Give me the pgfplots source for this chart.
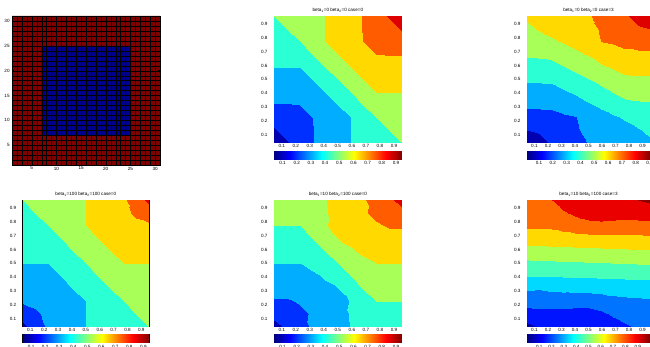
\documentclass[border=0pt]{standalone}
\usepackage{pgfplots}
\pgfplotsset{compat=1.18}
\usepackage{fontspec}
\setmainfont{Liberation Sans}
\definecolor{mred}{rgb}{0.5,0,0}
\definecolor{mblue}{rgb}{0,0,0.56}
\pgfplotsset{
  colormap={bandeight}{rgb=(0,0,0.70) rgb=(0,0.19,1) rgb=(0,0.68,1) rgb=(0.17,1,0.83) rgb=(0.66,1,0.34) rgb=(1,0.85,0) rgb=(1,0.36,0) rgb=(0.87,0,0)},
  colormap={bandten}{rgb=(0,0,0.66) rgb=(0,0.08,1) rgb=(0,0.45,1) rgb=(0,0.85,1) rgb=(0.28,1,0.72) rgb=(0.68,1,0.32) rgb=(1,0.85,0) rgb=(1,0.42,0) rgb=(0.92,0,0) rgb=(0.55,0,0)},
  base/.style={
    scale only axis, anchor=north west,
    font=\fontsize{4.6}{5.2}\selectfont,
    tick align=inside, major tick length=1.6pt,
    tick style={black, line width=0.3pt},
    axis line style={line width=0.4pt, black},
    /pgf/number format/assume math mode=true,
    xticklabel style={anchor=north, inner sep=0pt, yshift=-1.6pt},
    every axis title shift=0pt,
    title style={font=\fontsize{4.6}{5.2}\selectfont, anchor=south, inner sep=0pt, at={(0.5,1)}, yshift=3.4pt},
  },
  cplot/.style={
    base, height=126.7pt,
    xmin=0.045, xmax=0.955, ymin=0.045, ymax=0.955,
    xtick={0.1,0.2,0.3,0.4,0.5,0.6,0.7,0.8,0.9},
    ytick={0.1,0.2,0.3,0.4,0.5,0.6,0.7,0.8,0.9},
    xticklabel style={/pgf/number format/fixed, /pgf/number format/precision=1},
    yticklabel style={anchor=east, inner sep=0pt, xshift=-6.3pt, /pgf/number format/fixed, /pgf/number format/precision=1},
    colormap access=piecewise constant,
  },
  cbar/.style={
    base, height=8.6pt, ymin=0, ymax=1, ytick=\empty,
    xtick={0.1,0.2,0.3,0.4,0.5,0.6,0.7,0.8,0.9},
    xticklabel style={/pgf/number format/fixed, /pgf/number format/precision=1, yshift=-0.4pt},
    colormap/jet, colormap access=map,
  },
}
\begin{document}
\begin{tikzpicture}[x=1pt,y=1pt]
\useasboundingbox (0,0) rectangle (650,346);
\clip (0,0) rectangle (650,346);

% ---------- panel 1: mesh ----------
\begin{axis}[base, at={(12pt,330pt)}, width=148pt, height=149pt,
  xmin=1, xmax=31, ymin=1, ymax=31,
  xtick={5,10,15,20,25,30}, ytick={5,10,15,20,25,30},
  yticklabel style={anchor=east, inner sep=0pt, xshift=-2.2pt},
  minor xtick={1,...,31}, minor ytick={1,...,31}, minor tick length=0pt,
  grid=both, minor grid style={black, line width=0.18pt}, major grid style={black, line width=0.18pt},
  axis on top]
\addplot[fill=mred, draw=none] coordinates {(1,1) (31,1) (31,31) (1,31) (1,1)};
\addplot[fill=mblue, draw=none] coordinates {(7,7) (25,7) (25,25) (7,25) (7,7)};
\end{axis}

% ---------- panel 2 ----------
\begin{axis}[cplot, at={(274pt,330pt)}, width=127.7pt,
  colormap name=bandeight, point meta min=0.1, point meta max=0.9,
  title={beta\textsubscript{1}=0 beta\textsubscript{2}=0 case=0}]
\addplot[surf, shader=interp, mesh/cols=11, point meta=explicit] table[meta=f] {
x y f
0.045 0.045 0.04
0.136 0.045 0.19
0.227 0.045 0.25
0.318 0.045 0.295
0.409 0.045 0.34
0.5 0.045 0.37
0.591 0.045 0.40
0.682 0.045 0.43
0.773 0.045 0.45
0.864 0.045 0.475
0.955 0.045 0.50
0.045 0.136 0.19
0.136 0.136 0.24
0.227 0.136 0.26
0.318 0.136 0.295
0.409 0.136 0.34
0.5 0.136 0.37
0.591 0.136 0.40
0.682 0.136 0.445
0.773 0.136 0.47
0.864 0.136 0.50
0.955 0.136 0.525
0.045 0.227 0.25
0.136 0.227 0.26
0.227 0.227 0.28
0.318 0.227 0.30
0.409 0.227 0.345
0.5 0.227 0.375
0.591 0.227 0.40
0.682 0.227 0.45
0.773 0.227 0.50
0.864 0.227 0.53
0.955 0.227 0.55
0.045 0.318 0.295
0.136 0.318 0.295
0.227 0.318 0.30
0.318 0.318 0.34
0.409 0.318 0.37
0.5 0.318 0.40
0.591 0.318 0.45
0.682 0.318 0.50
0.773 0.318 0.55
0.864 0.318 0.555
0.955 0.318 0.57
0.045 0.409 0.34
0.136 0.409 0.34
0.227 0.409 0.345
0.318 0.409 0.37
0.409 0.409 0.40
0.5 0.409 0.45
0.591 0.409 0.50
0.682 0.409 0.55
0.773 0.409 0.60
0.864 0.409 0.60
0.955 0.409 0.60
0.045 0.5 0.37
0.136 0.5 0.37
0.227 0.5 0.375
0.318 0.5 0.40
0.409 0.5 0.45
0.5 0.5 0.50
0.591 0.5 0.55
0.682 0.5 0.60
0.773 0.5 0.625
0.864 0.5 0.63
0.955 0.5 0.63
0.045 0.591 0.40
0.136 0.591 0.40
0.227 0.591 0.40
0.318 0.591 0.45
0.409 0.591 0.50
0.5 0.591 0.55
0.591 0.591 0.60
0.682 0.591 0.63
0.773 0.591 0.655
0.864 0.591 0.66
0.955 0.591 0.66
0.045 0.682 0.43
0.136 0.682 0.445
0.227 0.682 0.45
0.318 0.682 0.50
0.409 0.682 0.55
0.5 0.682 0.60
0.591 0.682 0.63
0.682 0.682 0.66
0.773 0.682 0.70
0.864 0.682 0.705
0.955 0.682 0.705
0.045 0.773 0.45
0.136 0.773 0.47
0.227 0.773 0.50
0.318 0.773 0.55
0.409 0.773 0.60
0.5 0.773 0.625
0.591 0.773 0.655
0.682 0.773 0.70
0.773 0.773 0.72
0.864 0.773 0.74
0.955 0.773 0.75
0.045 0.864 0.475
0.136 0.864 0.50
0.227 0.864 0.53
0.318 0.864 0.555
0.409 0.864 0.60
0.5 0.864 0.63
0.591 0.864 0.66
0.682 0.864 0.705
0.773 0.864 0.74
0.864 0.864 0.76
0.955 0.864 0.81
0.045 0.955 0.50
0.136 0.955 0.525
0.227 0.955 0.55
0.318 0.955 0.57
0.409 0.955 0.60
0.5 0.955 0.63
0.591 0.955 0.66
0.682 0.955 0.705
0.773 0.955 0.75
0.864 0.955 0.81
0.955 0.955 0.94
};
\end{axis}
\begin{axis}[cbar, at={(274pt,195.3pt)}, width=127.7pt, xmin=0.04, xmax=0.94]
\addplot[surf, shader=interp, mesh/cols=9, point meta=explicit] table[meta=c] {
x y c
0.04 0 0.04
0.1525 0 0.1525
0.265 0 0.265
0.3775 0 0.3775
0.49 0 0.49
0.6025 0 0.6025
0.715 0 0.715
0.8275 0 0.8275
0.94 0 0.94
0.04 1 0.04
0.1525 1 0.1525
0.265 1 0.265
0.3775 1 0.3775
0.49 1 0.49
0.6025 1 0.6025
0.715 1 0.715
0.8275 1 0.8275
0.94 1 0.94
};
\end{axis}

% ---------- panel 3 ----------
\begin{axis}[cplot, at={(527pt,330pt)}, width=123pt,
  colormap name=bandeight, point meta min=0.1, point meta max=0.9,
  title={beta\textsubscript{1}=0 beta\textsubscript{2}=0 case=3}]
\addplot[surf, shader=interp, mesh/cols=11, point meta=explicit] table[meta=f] {
x y f
0.045 0.045 0.13
0.136 0.045 0.162
0.227 0.045 0.213
0.318 0.045 0.245
0.409 0.045 0.277
0.5 0.045 0.305
0.591 0.045 0.321
0.682 0.045 0.337
0.773 0.045 0.353
0.864 0.045 0.37
0.955 0.045 0.386
0.045 0.136 0.20
0.136 0.136 0.213
0.227 0.136 0.245
0.318 0.136 0.268
0.409 0.136 0.288
0.5 0.136 0.334
0.591 0.136 0.349
0.682 0.136 0.364
0.773 0.136 0.378
0.864 0.136 0.393
0.955 0.136 0.42
0.045 0.227 0.259
0.136 0.227 0.264
0.227 0.227 0.277
0.318 0.227 0.29
0.409 0.227 0.298
0.5 0.227 0.363
0.591 0.227 0.377
0.682 0.227 0.391
0.773 0.227 0.409
0.864 0.227 0.439
0.955 0.227 0.454
0.045 0.318 0.315
0.136 0.318 0.315
0.227 0.318 0.315
0.318 0.318 0.332
0.409 0.318 0.354
0.5 0.318 0.392
0.591 0.318 0.412
0.682 0.318 0.442
0.773 0.318 0.474
0.864 0.318 0.484
0.955 0.318 0.488
0.045 0.409 0.365
0.136 0.409 0.365
0.227 0.409 0.367
0.318 0.409 0.39
0.409 0.409 0.415
0.5 0.409 0.443
0.591 0.409 0.472
0.682 0.409 0.503
0.773 0.409 0.53
0.864 0.409 0.534
0.955 0.409 0.534
0.045 0.5 0.415
0.136 0.5 0.415
0.227 0.5 0.418
0.318 0.5 0.444
0.409 0.5 0.471
0.5 0.5 0.50
0.591 0.5 0.529
0.682 0.5 0.556
0.773 0.5 0.582
0.864 0.5 0.585
0.955 0.5 0.585
0.045 0.591 0.466
0.136 0.591 0.466
0.227 0.591 0.47
0.318 0.591 0.497
0.409 0.591 0.528
0.5 0.591 0.557
0.591 0.591 0.585
0.682 0.591 0.61
0.773 0.591 0.633
0.864 0.591 0.635
0.955 0.591 0.635
0.045 0.682 0.512
0.136 0.682 0.516
0.227 0.682 0.526
0.318 0.682 0.558
0.409 0.682 0.588
0.5 0.682 0.608
0.591 0.682 0.646
0.682 0.682 0.668
0.773 0.682 0.685
0.864 0.682 0.685
0.955 0.682 0.685
0.045 0.773 0.546
0.136 0.773 0.561
0.227 0.773 0.591
0.318 0.773 0.609
0.409 0.773 0.623
0.5 0.773 0.637
0.591 0.773 0.702
0.682 0.773 0.71
0.773 0.773 0.723
0.864 0.773 0.736
0.955 0.773 0.741
0.045 0.864 0.58
0.136 0.864 0.607
0.227 0.864 0.622
0.318 0.864 0.636
0.409 0.864 0.651
0.5 0.864 0.666
0.591 0.864 0.712
0.682 0.864 0.732
0.773 0.864 0.755
0.864 0.864 0.787
0.955 0.864 0.80
0.045 0.955 0.614
0.136 0.955 0.63
0.227 0.955 0.647
0.318 0.955 0.663
0.409 0.955 0.679
0.5 0.955 0.695
0.591 0.955 0.723
0.682 0.955 0.755
0.773 0.955 0.787
0.864 0.955 0.838
0.955 0.955 0.87
};
\end{axis}
\begin{axis}[cbar, at={(527pt,195.3pt)}, width=123pt, xmin=0.013, xmax=0.903]
\addplot[surf, shader=interp, mesh/cols=9, point meta=explicit] table[meta=c] {
x y c
0.013 0 0.013
0.124 0 0.124
0.236 0 0.236
0.347 0 0.347
0.458 0 0.458
0.569 0 0.569
0.681 0 0.681
0.792 0 0.792
0.903 0 0.903
0.013 1 0.013
0.124 1 0.124
0.236 1 0.236
0.347 1 0.347
0.458 1 0.458
0.569 1 0.569
0.681 1 0.681
0.792 1 0.792
0.903 1 0.903
};
\end{axis}

% ---------- panel 4 ----------
\begin{axis}[cplot, at={(22.7pt,146pt)}, width=126.3pt,
  colormap name=bandeight, point meta min=0.1, point meta max=0.9,
  title={beta\textsubscript{1}=100 beta\textsubscript{2}=100 case=0}]
\addplot[surf, shader=interp, mesh/cols=11, point meta=explicit] table[meta=f] {
x y f
0.045 0.045 0.17
0.136 0.045 0.26
0.227 0.045 0.31
0.318 0.045 0.34
0.409 0.045 0.37
0.5 0.045 0.40
0.591 0.045 0.425
0.682 0.045 0.445
0.773 0.045 0.46
0.864 0.045 0.48
0.955 0.045 0.50
0.045 0.136 0.26
0.136 0.136 0.285
0.227 0.136 0.32
0.318 0.136 0.345
0.409 0.136 0.37
0.5 0.136 0.40
0.591 0.136 0.43
0.682 0.136 0.45
0.773 0.136 0.47
0.864 0.136 0.50
0.955 0.136 0.52
0.045 0.227 0.31
0.136 0.227 0.32
0.227 0.227 0.34
0.318 0.227 0.36
0.409 0.227 0.38
0.5 0.227 0.40
0.591 0.227 0.435
0.682 0.227 0.46
0.773 0.227 0.50
0.864 0.227 0.53
0.955 0.227 0.54
0.045 0.318 0.34
0.136 0.318 0.345
0.227 0.318 0.36
0.318 0.318 0.38
0.409 0.318 0.40
0.5 0.318 0.425
0.591 0.318 0.45
0.682 0.318 0.50
0.773 0.318 0.54
0.864 0.318 0.55
0.955 0.318 0.555
0.045 0.409 0.37
0.136 0.409 0.37
0.227 0.409 0.38
0.318 0.409 0.40
0.409 0.409 0.425
0.5 0.409 0.45
0.591 0.409 0.50
0.682 0.409 0.55
0.773 0.409 0.565
0.864 0.409 0.57
0.955 0.409 0.575
0.045 0.5 0.40
0.136 0.5 0.40
0.227 0.5 0.40
0.318 0.5 0.425
0.409 0.5 0.45
0.5 0.5 0.50
0.591 0.5 0.55
0.682 0.5 0.575
0.773 0.5 0.60
0.864 0.5 0.60
0.955 0.5 0.60
0.045 0.591 0.425
0.136 0.591 0.43
0.227 0.591 0.435
0.318 0.591 0.45
0.409 0.591 0.50
0.5 0.591 0.55
0.591 0.591 0.575
0.682 0.591 0.60
0.773 0.591 0.62
0.864 0.591 0.63
0.955 0.591 0.63
0.045 0.682 0.445
0.136 0.682 0.45
0.227 0.682 0.46
0.318 0.682 0.50
0.409 0.682 0.55
0.5 0.682 0.575
0.591 0.682 0.60
0.682 0.682 0.62
0.773 0.682 0.64
0.864 0.682 0.655
0.955 0.682 0.66
0.045 0.773 0.46
0.136 0.773 0.47
0.227 0.773 0.50
0.318 0.773 0.54
0.409 0.773 0.565
0.5 0.773 0.60
0.591 0.773 0.62
0.682 0.773 0.64
0.773 0.773 0.66
0.864 0.773 0.68
0.955 0.773 0.69
0.045 0.864 0.48
0.136 0.864 0.50
0.227 0.864 0.53
0.318 0.864 0.55
0.409 0.864 0.57
0.5 0.864 0.60
0.591 0.864 0.63
0.682 0.864 0.655
0.773 0.864 0.68
0.864 0.864 0.715
0.955 0.864 0.74
0.045 0.955 0.50
0.136 0.955 0.52
0.227 0.955 0.54
0.318 0.955 0.555
0.409 0.955 0.575
0.5 0.955 0.60
0.591 0.955 0.63
0.682 0.955 0.66
0.773 0.955 0.69
0.864 0.955 0.74
0.955 0.955 0.83
};
\end{axis}
\begin{axis}[cbar, at={(22.7pt,12pt)}, width=126.3pt, xmin=0.04, xmax=0.94]
\addplot[surf, shader=interp, mesh/cols=9, point meta=explicit] table[meta=c] {
x y c
0.04 0 0.04
0.1525 0 0.1525
0.265 0 0.265
0.3775 0 0.3775
0.49 0 0.49
0.6025 0 0.6025
0.715 0 0.715
0.8275 0 0.8275
0.94 0 0.94
0.04 1 0.04
0.1525 1 0.1525
0.265 1 0.265
0.3775 1 0.3775
0.49 1 0.49
0.6025 1 0.6025
0.715 1 0.715
0.8275 1 0.8275
0.94 1 0.94
};
\end{axis}

% ---------- panel 5 ----------
\begin{axis}[cplot, at={(274pt,146pt)}, width=127.7pt,
  colormap name=bandeight, point meta min=0.1, point meta max=0.9,
  title={beta\textsubscript{1}=10 beta\textsubscript{2}=100 case=0}]
\addplot[surf, shader=interp, mesh/cols=11, point meta=explicit] table[meta=f] {
x y f
0.045 0.045 0.14
0.136 0.045 0.23
0.227 0.045 0.25
0.318 0.045 0.315
0.409 0.045 0.345
0.5 0.045 0.375
0.591 0.045 0.403
0.682 0.045 0.41
0.773 0.045 0.435
0.864 0.045 0.445
0.955 0.045 0.455
0.045 0.136 0.255
0.136 0.136 0.26
0.227 0.136 0.28
0.318 0.136 0.31
0.409 0.136 0.35
0.5 0.136 0.38
0.591 0.136 0.405
0.682 0.136 0.43
0.773 0.136 0.465
0.864 0.136 0.47
0.955 0.136 0.475
0.045 0.227 0.29
0.136 0.227 0.29
0.227 0.227 0.31
0.318 0.227 0.33
0.409 0.227 0.36
0.5 0.227 0.39
0.591 0.227 0.402
0.682 0.227 0.46
0.773 0.227 0.50
0.864 0.227 0.50
0.955 0.227 0.50
0.045 0.318 0.332
0.136 0.318 0.332
0.227 0.318 0.34
0.318 0.318 0.36
0.409 0.318 0.39
0.5 0.318 0.397
0.591 0.318 0.45
0.682 0.318 0.50
0.773 0.318 0.54
0.864 0.318 0.54
0.955 0.318 0.54
0.045 0.409 0.37
0.136 0.409 0.37
0.227 0.409 0.37
0.318 0.409 0.39
0.409 0.409 0.405
0.5 0.409 0.44
0.591 0.409 0.50
0.682 0.409 0.55
0.773 0.409 0.57
0.864 0.409 0.57
0.955 0.409 0.57
0.045 0.5 0.40
0.136 0.5 0.40
0.227 0.5 0.40
0.318 0.5 0.415
0.409 0.5 0.45
0.5 0.5 0.50
0.591 0.5 0.55
0.682 0.5 0.585
0.773 0.5 0.60
0.864 0.5 0.60
0.955 0.5 0.60
0.045 0.591 0.43
0.136 0.591 0.43
0.227 0.591 0.43
0.318 0.591 0.45
0.409 0.591 0.50
0.5 0.591 0.56
0.591 0.591 0.595
0.682 0.591 0.61
0.773 0.591 0.63
0.864 0.591 0.63
0.955 0.591 0.63
0.045 0.682 0.46
0.136 0.682 0.46
0.227 0.682 0.46
0.318 0.682 0.50
0.409 0.682 0.55
0.5 0.682 0.603
0.591 0.682 0.61
0.682 0.682 0.64
0.773 0.682 0.66
0.864 0.682 0.668
0.955 0.682 0.668
0.045 0.773 0.50
0.136 0.773 0.50
0.227 0.773 0.50
0.318 0.773 0.54
0.409 0.773 0.598
0.5 0.773 0.61
0.591 0.773 0.64
0.682 0.773 0.67
0.773 0.773 0.69
0.864 0.773 0.71
0.955 0.773 0.71
0.045 0.864 0.525
0.136 0.864 0.53
0.227 0.864 0.535
0.318 0.864 0.57
0.409 0.864 0.595
0.5 0.864 0.62
0.591 0.864 0.65
0.682 0.864 0.69
0.773 0.864 0.72
0.864 0.864 0.74
0.955 0.864 0.745
0.045 0.955 0.545
0.136 0.955 0.555
0.227 0.955 0.565
0.318 0.955 0.59
0.409 0.955 0.597
0.5 0.955 0.625
0.591 0.955 0.655
0.682 0.955 0.685
0.773 0.955 0.75
0.864 0.955 0.77
0.955 0.955 0.86
};
\end{axis}
\begin{axis}[cbar, at={(274pt,12pt)}, width=127.7pt, xmin=0.04, xmax=0.94]
\addplot[surf, shader=interp, mesh/cols=9, point meta=explicit] table[meta=c] {
x y c
0.04 0 0.04
0.1525 0 0.1525
0.265 0 0.265
0.3775 0 0.3775
0.49 0 0.49
0.6025 0 0.6025
0.715 0 0.715
0.8275 0 0.8275
0.94 0 0.94
0.04 1 0.04
0.1525 1 0.1525
0.265 1 0.265
0.3775 1 0.3775
0.49 1 0.49
0.6025 1 0.6025
0.715 1 0.715
0.8275 1 0.8275
0.94 1 0.94
};
\end{axis}

% ---------- panel 6 ----------
\begin{axis}[cplot, at={(527pt,146pt)}, width=123pt,
  colormap name=bandten, point meta min=0, point meta max=1,
  title={beta\textsubscript{1}=10 beta\textsubscript{2}=100 case=3}]
\addplot[surf, shader=interp, mesh/cols=11, point meta=explicit] table[meta=f] {
x y f
0.045 0.045 0.07
0.136 0.045 0.105
0.227 0.045 0.115
0.318 0.045 0.12
0.409 0.045 0.125
0.5 0.045 0.13
0.591 0.045 0.145
0.682 0.045 0.165
0.773 0.045 0.185
0.864 0.045 0.21
0.955 0.045 0.23
0.045 0.136 0.16
0.136 0.136 0.171
0.227 0.136 0.173
0.318 0.136 0.171
0.409 0.136 0.17
0.5 0.136 0.171
0.591 0.136 0.184
0.682 0.136 0.211
0.773 0.136 0.234
0.864 0.136 0.247
0.955 0.136 0.26
0.045 0.227 0.238
0.136 0.227 0.239
0.227 0.227 0.24
0.318 0.227 0.237
0.409 0.227 0.232
0.5 0.227 0.232
0.591 0.227 0.25
0.682 0.227 0.269
0.773 0.227 0.279
0.864 0.227 0.284
0.955 0.227 0.289
0.045 0.318 0.309
0.136 0.318 0.303
0.227 0.318 0.318
0.318 0.318 0.322
0.409 0.318 0.326
0.5 0.318 0.329
0.591 0.318 0.333
0.682 0.318 0.336
0.773 0.318 0.34
0.864 0.318 0.343
0.955 0.318 0.346
0.045 0.409 0.40
0.136 0.409 0.402
0.227 0.409 0.404
0.318 0.409 0.407
0.409 0.409 0.408
0.5 0.409 0.411
0.591 0.409 0.413
0.682 0.409 0.415
0.773 0.409 0.418
0.864 0.409 0.42
0.955 0.409 0.423
0.045 0.5 0.479
0.136 0.5 0.482
0.227 0.5 0.485
0.318 0.5 0.489
0.409 0.5 0.492
0.5 0.5 0.494
0.591 0.5 0.497
0.682 0.5 0.501
0.773 0.5 0.504
0.864 0.5 0.507
0.955 0.5 0.511
0.045 0.591 0.562
0.136 0.591 0.565
0.227 0.591 0.568
0.318 0.591 0.571
0.409 0.591 0.574
0.5 0.591 0.577
0.591 0.591 0.58
0.682 0.591 0.581
0.773 0.591 0.586
0.864 0.591 0.589
0.955 0.591 0.592
0.045 0.682 0.649
0.136 0.682 0.651
0.227 0.682 0.655
0.318 0.682 0.658
0.409 0.682 0.661
0.5 0.682 0.664
0.591 0.682 0.667
0.682 0.682 0.67
0.773 0.682 0.673
0.864 0.682 0.676
0.955 0.682 0.679
0.045 0.773 0.716
0.136 0.773 0.717
0.227 0.773 0.72
0.318 0.773 0.745
0.409 0.773 0.77
0.5 0.773 0.785
0.591 0.773 0.788
0.682 0.773 0.785
0.773 0.773 0.775
0.864 0.773 0.775
0.955 0.773 0.775
0.045 0.864 0.753
0.136 0.864 0.756
0.227 0.864 0.76
0.318 0.864 0.794
0.409 0.864 0.813
0.5 0.864 0.822
0.591 0.864 0.825
0.682 0.864 0.825
0.773 0.864 0.828
0.864 0.864 0.835
0.955 0.864 0.842
0.045 0.955 0.79
0.136 0.955 0.795
0.227 0.955 0.80
0.318 0.955 0.83
0.409 0.955 0.845
0.5 0.955 0.855
0.591 0.955 0.86
0.682 0.955 0.865
0.773 0.955 0.875
0.864 0.955 0.90
0.955 0.955 0.92
};
\end{axis}
\begin{axis}[cbar, at={(527pt,12pt)}, width=123pt, xmin=0, xmax=1]
\addplot[surf, shader=interp, mesh/cols=9, point meta=explicit] table[meta=c] {
x y c
0 0 0
0.125 0 0.125
0.25 0 0.25
0.375 0 0.375
0.5 0 0.5
0.625 0 0.625
0.75 0 0.75
0.875 0 0.875
1 0 1
0 1 0
0.125 1 0.125
0.25 1 0.25
0.375 1 0.375
0.5 1 0.5
0.625 1 0.625
0.75 1 0.75
0.875 1 0.875
1 1 1
};
\end{axis}
\end{tikzpicture}
\end{document}
